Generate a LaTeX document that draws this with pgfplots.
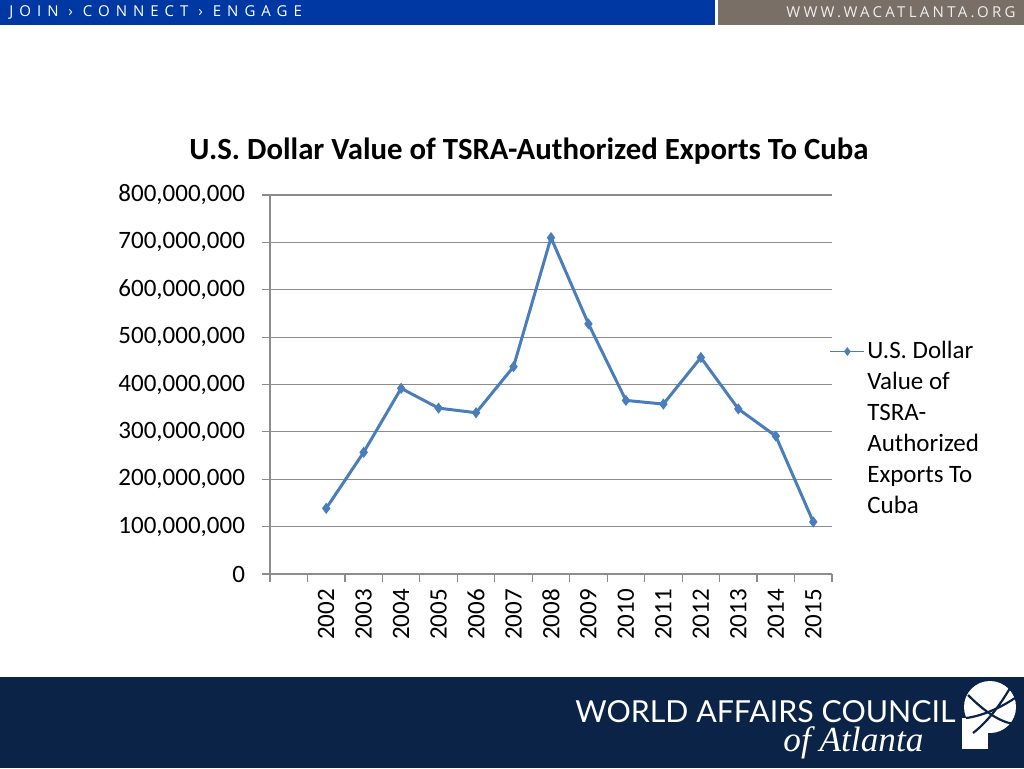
\documentclass[border=0pt]{standalone}
\usepackage{pgfplots}
\pgfplotsset{compat=1.18}
\usepackage{fontspec}
\setmainfont{Carlito}
\newfontfamily\hdrfont[LetterSpace=40]{Open Sans}
\newfontfamily\urlfont[LetterSpace=22]{Open Sans}
\newfontfamily\wacfont{Lato}
\newfontfamily\serifit{Liberation Serif}
\definecolor{hdrblue}{HTML}{0038A3}
\definecolor{hdrgray}{HTML}{7A6F66}
\definecolor{navy}{HTML}{0B2346}
\definecolor{lineblue}{HTML}{4A7EBB}
\definecolor{gridgray}{HTML}{8C8C8C}
\begin{document}
\begin{tikzpicture}[x=0.5pt,y=-0.5pt]
\useasboundingbox (0,0) rectangle (1024,768);
\fill[white] (0,0) rectangle (1024,768);
% header
\fill[hdrblue] (0,0) rectangle (715,25);
\fill[hdrgray] (718,0) rectangle (1024,25);
\node[anchor=west, text=white, font=\hdrfont\fontsize{7.5}{8}\selectfont, inner sep=0] at (9,12.5) {JOIN › CONNECT › ENGAGE};
\node[anchor=east, text=white!88!hdrgray, font=\urlfont\fontsize{7.5}{8}\selectfont, inner sep=0] at (1016,12.5) {WWW.WACATLANTA.ORG};
% footer
\fill[navy] (0,677) rectangle (1024,768);
\node[anchor=base west, text=white, inner sep=0] at (575,722) {\resizebox{190pt}{!}{\wacfont WORLD AFFAIRS COUNCIL}};
\node[anchor=base west, text=white, inner sep=0] at (783,751) {\resizebox{70pt}{!}{\serifit\itshape of Atlanta}};
\fill[white] (962,718) rectangle (988,749);
\fill[white] (990,707) circle[radius=26];
\draw[navy, line width=1.1pt] (968,695) .. controls (985,712) and (1000,722) .. (1014,724);
\draw[navy, line width=1.1pt] (973,733) .. controls (990,720) and (1003,700) .. (1010,688);
\draw[navy, line width=1.1pt] (966,718) .. controls (982,716) and (1000,708) .. (1015,698);
% title
\node[font=\bfseries\fontsize{15.4}{18}\selectfont, inner sep=0] at (529,151) {U.S. Dollar Value of TSRA-Authorized Exports To Cuba};
\begin{axis}[
  at={(135pt,-287pt)}, anchor=south west,
  width=281pt, height=189.5pt, scale only axis,
  xmin=0.5, xmax=15.5,
  ymin=0, ymax=800000000,
  axis x line*=bottom, axis y line*=left,
  axis line style={gridgray, line width=0.6pt, -},
  xtick={2,...,15},
  xticklabels={2002,2003,2004,2005,2006,2007,2008,2009,2010,2011,2012,2013,2014,2015},
  minor xtick={0.5,1.5,...,15.5},
  major x tick style={draw=none},
  minor x tick style={gridgray, line width=0.6pt},
  ytick={0,100000000,...,800000000},
  y tick style={gridgray, line width=0.6pt},
  tick align=outside,
  major tick length=4pt, minor tick length=4pt,
  ymajorgrids, grid style={gridgray, line width=0.6pt},
  scaled y ticks=false,
  yticklabel style={/pgf/number format/fixed, /pgf/number format/precision=0, /pgf/number format/1000 sep={,}, /pgf/number format/assume math mode=true, xshift=-5pt},
  tick label style={font=\fontsize{12.5}{15}\selectfont},
  xticklabel style={rotate=90, anchor=east, xshift=0pt},
  legend style={draw=none, fill=none, at={(1.0,0.633)}, anchor=north west, xshift=-4.5pt, font=\fontsize{12.5}{15.5}\selectfont, cells={anchor=north west, align=left}, nodes={inner sep=1pt}},
  legend image post style={yshift=-6.5pt, line width=0.9pt, mark size=1.8pt},
]
\addplot[lineblue, line width=1.5pt, mark=diamond*, mark size=2.4pt, mark options={fill=lineblue, draw=lineblue, line width=0.5pt}] coordinates {
(2,138600000) (3,256900000) (4,391900000) (5,350200000) (6,340400000) (7,437600000)
(8,710000000) (9,528000000) (10,366500000) (11,358700000) (12,457000000) (13,348500000)
(14,291200000) (15,110000000)};
\addlegendentry{U.S. Dollar\\Value of\\TSRA-\\Authorized\\Exports To\\Cuba}
\end{axis}
\end{tikzpicture}
\end{document}
